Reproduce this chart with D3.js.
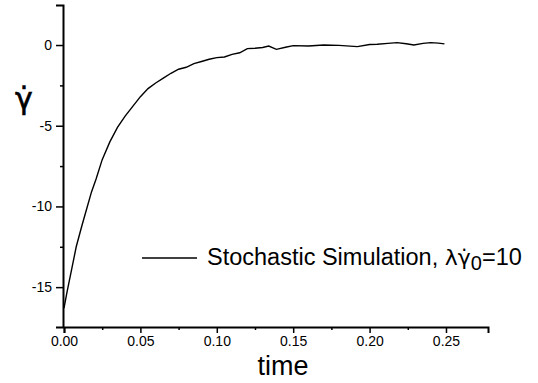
<!DOCTYPE html>
<html>
<head>
<meta charset="utf-8">
<script src="https://cdn.jsdelivr.net/npm/d3@7"></script>
<style>
  body { margin: 0; background: #fff; }
  svg { display: block; font-family: "Liberation Sans", Arial, sans-serif; }
</style>
</head>
<body>
<svg id="chart" width="538" height="383"></svg>
<script>
// values
let times = [0, 0.002, 0.005, 0.008, 0.0117, 0.015, 0.018, 0.021, 0.025, 0.03,
  0.035, 0.04, 0.045, 0.05, 0.055, 0.06, 0.065, 0.07, 0.075, 0.08,
  0.085, 0.09, 0.095, 0.1, 0.105, 0.11, 0.115, 0.12, 0.125, 0.13,
  0.134, 0.139, 0.145, 0.15, 0.16, 0.17, 0.18, 0.192, 0.2, 0.205,
  0.212, 0.218, 0.224, 0.229, 0.235, 0.24, 0.245, 0.249];
let rates = [-16.3, -15.3, -13.9, -12.5, -11.2, -10.1, -9.1, -8.3, -7.1, -6.0,
  -5.1, -4.4, -3.8, -3.2, -2.7, -2.35, -2.05, -1.75, -1.5, -1.38,
  -1.15, -1.02, -0.88, -0.78, -0.74, -0.58, -0.48, -0.22, -0.2, -0.15,
  -0.06, -0.27, -0.14, -0.04, -0.06, 0.0, -0.02, -0.1, 0.03, 0.05,
  0.1, 0.15, 0.08, 0.0, 0.1, 0.15, 0.12, 0.07];
let xTicks = [0, 0.05, 0.1, 0.15, 0.2, 0.25];
let yTicks = [0, -5, -10, -15];
let legendText = "Stochastic Simulation, ";

let svg = d3.select("#chart");

let x = d3.scaleLinear().domain([0, 0.2775]).range([64, 488]);
let y = d3.scaleLinear().domain([-17.47, 2.48]).range([327, 5]);

// minor ticks first so the major ones sit on top
svg.append("g")
  .attr("transform", "translate(0,327)")
  .call(d3.axisBottom(x).tickValues(d3.range(0.025, 0.275, 0.05)).tickSize(3).tickFormat(""))
  .call(g => g.select(".domain").remove());
svg.append("g")
  .attr("transform", "translate(63,0)")
  .call(d3.axisLeft(y).tickValues([-2.5, -7.5, -12.5]).tickSize(3).tickFormat(""))
  .call(g => g.select(".domain").remove());

let xAxis = svg.append("g")
  .attr("transform", "translate(0,327)")
  .call(d3.axisBottom(x).tickValues(xTicks).tickSize(6).tickPadding(3).tickFormat(d3.format(".2f")));
let yAxis = svg.append("g")
  .attr("transform", "translate(63,0)")
  .call(d3.axisLeft(y).tickValues(yTicks).tickSize(7).tickPadding(4).tickFormat(d => d < 0 ? "-" + Math.abs(d) : d));

[xAxis, yAxis].forEach(a => {
  a.select(".domain").attr("stroke-width", 2).attr("stroke", "#000");
  a.selectAll(".tick text").attr("font-size", 14).attr("font-family", "Liberation Sans, Arial, sans-serif").attr("fill", "#000");
});
svg.selectAll(".tick line").attr("stroke", "#000").attr("stroke-width", 1.5);

// the curve
let line = d3.line().x((d, i) => x(times[i])).y(d => y(d));
svg.append("path")
  .datum(rates)
  .attr("d", line)
  .attr("fill", "none")
  .attr("stroke", "#000")
  .attr("stroke-width", 1.4);

// axis titles
svg.append("text")
  .attr("x", 283).attr("y", 375)
  .attr("text-anchor", "middle")
  .attr("font-size", 27)
  .text("time");

svg.append("text")
  .attr("x", 24).attr("y", 109)
  .attr("text-anchor", "middle")
  .attr("font-family", "DejaVu Sans, sans-serif")
  .attr("font-size", 30)
  .attr("stroke", "#000")
  .attr("stroke-width", 0.6)
  .text("γ̇");

// legend
svg.append("line")
  .attr("x1", 142).attr("x2", 197)
  .attr("y1", 258).attr("y2", 258)
  .attr("stroke", "#000").attr("stroke-width", 1.4);
let lt = svg.append("text")
  .attr("x", 207).attr("y", 265)
  .attr("font-size", 23.5);
lt.append("tspan").text(legendText);
lt.append("tspan").attr("font-family", "DejaVu Sans, sans-serif").attr("font-size", 22).text("λγ̇");
lt.append("tspan").attr("dy", 5).attr("font-size", 20).text("0");
lt.append("tspan").attr("dy", -5).text("=10");
</script>
</body>
</html>
